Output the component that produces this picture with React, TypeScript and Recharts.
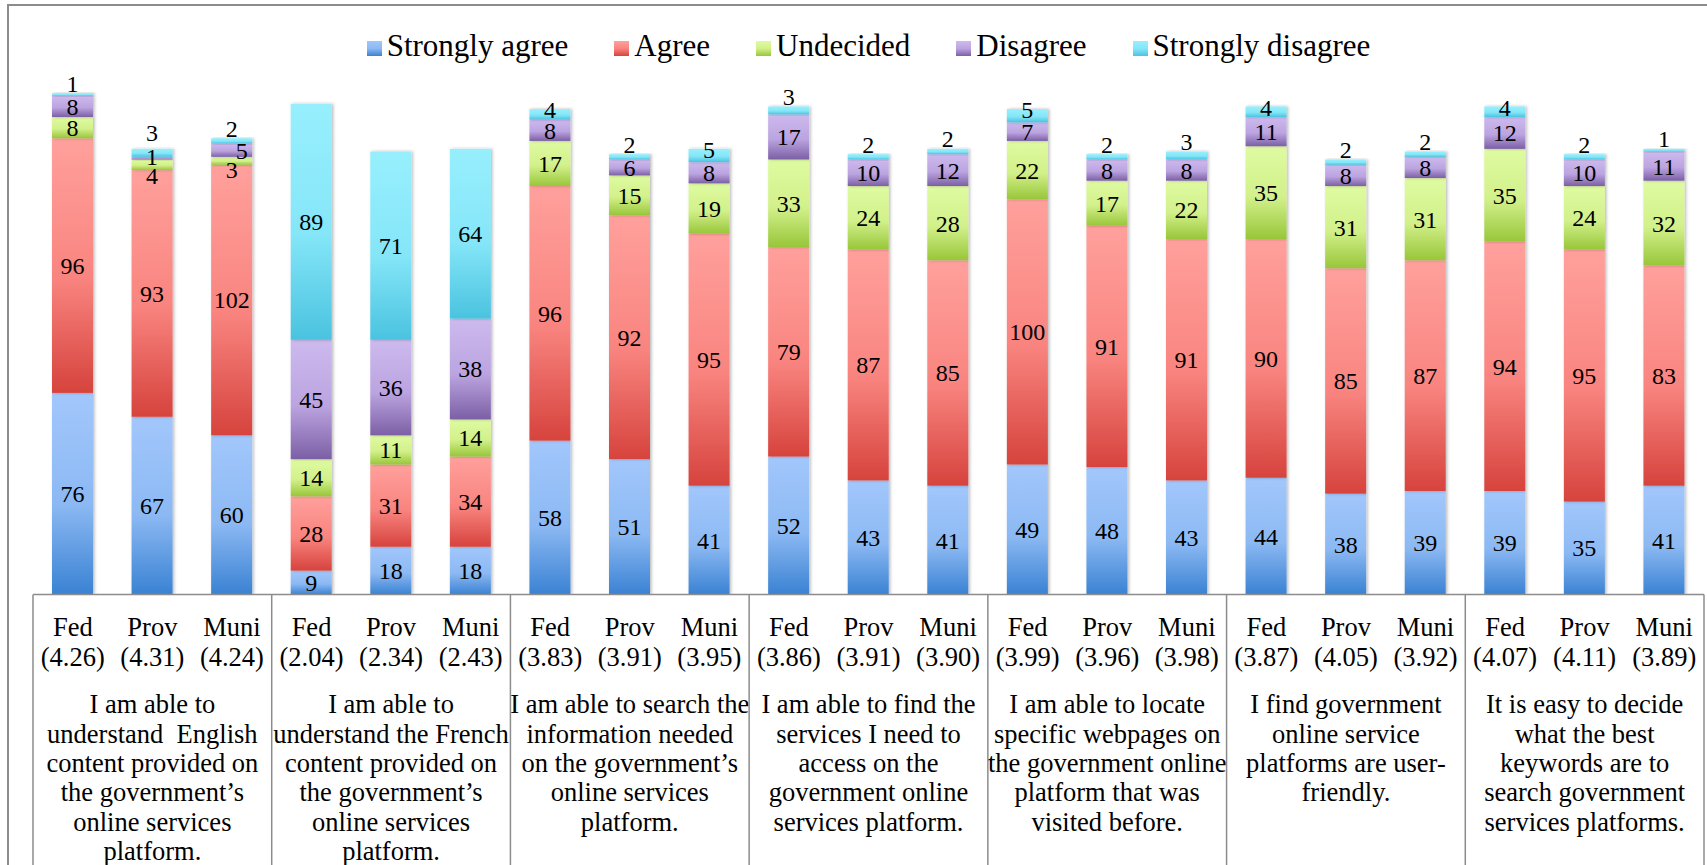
import React from 'react';
import { BarChart, Bar, XAxis, YAxis, Legend, LabelList } from 'recharts';

const levels = ['Fed', 'Prov', 'Muni'];
const scores = [
  [4.26, 4.31, 4.24],
  [2.04, 2.34, 2.43],
  [3.83, 3.91, 3.95],
  [3.86, 3.91, 3.9],
  [3.99, 3.96, 3.98],
  [3.87, 4.05, 3.92],
  [4.07, 4.11, 3.89],
];
const questions = [
  ['I am able to', 'understand  English', 'content provided on', 'the government\u2019s', 'online services', 'platform.'],
  ['I am able to', 'understand the French', 'content provided on', 'the government\u2019s', 'online services', 'platform.'],
  ['I am able to search the', 'information needed', 'on the government\u2019s', 'online services', 'platform.'],
  ['I am able to find the', 'services I need to', 'access on the', 'government online', 'services platform.'],
  ['I am able to locate', 'specific webpages on', 'the government online', 'platform that was', 'visited before.'],
  ['I find government', 'online service', 'platforms are user-', 'friendly.'],
  ['It is easy to decide', 'what the best', 'keywords are to', 'search government', 'services platforms.'],
];
const stronglyAgree = [76, 67, 60, 9, 18, 18, 58, 51, 41, 52, 43, 41, 49, 48, 43, 44, 38, 39, 39, 35, 41];
const agree = [96, 93, 102, 28, 31, 34, 96, 92, 95, 79, 87, 85, 100, 91, 91, 90, 85, 87, 94, 95, 83];
const undecided = [8, 4, 3, 14, 11, 14, 17, 15, 19, 33, 24, 28, 22, 17, 22, 35, 31, 31, 35, 24, 32];
const disagree = [8, 1, 5, 45, 36, 38, 8, 6, 8, 17, 10, 12, 7, 8, 8, 11, 8, 8, 12, 10, 11];
const stronglyDisagree = [1, 3, 2, 89, 71, 64, 4, 2, 5, 3, 2, 2, 5, 2, 3, 4, 2, 2, 4, 2, 1];

const seriesNames = ['Strongly agree', 'Agree', 'Undecided', 'Disagree', 'Strongly disagree'];
const seriesKeys = ['sa', 'a', 'u', 'd', 'sd'];
const gradients = [
  ['#a2c7fc', '#8cb9f3', '#3a82d3'],
  ['#ffa09c', '#f9847f', '#d6433d'],
  ['#dffba2', '#d2f08a', '#98c63a'],
  ['#cdbaee', '#bba4e0', '#7c5fa5'],
  ['#97effd', '#85e6f8', '#4ac3e0'],
];

const data = stronglyAgree.map((v, i) => ({
  key: i,
  sa: v,
  a: agree[i],
  u: undecided[i],
  d: disagree[i],
  sd: stronglyDisagree[i],
}));

const W = 1707;
const H = 865;
const FONT = '"Liberation Serif", "Times New Roman", serif';
const MARGIN = { top: 64, right: 3, bottom: 240.5, left: 33 };
const AXIS_H = 30;
const BASE = H - MARGIN.bottom - AXIS_H;
const BAND = (W - MARGIN.left - MARGIN.right) / data.length;
const GRID = '#8c8c8c';

const Tick = (props: any) => {
  const { x, payload } = props;
  const i = Number(payload.value);
  const half = payload.offset ?? BAND / 2;
  const g = Math.floor(i / 3);
  return (
    <g fontFamily={FONT} fill="#000">
      <text x={x} y={627} dy="0.35em" textAnchor="middle" fontSize={26.5} fill="#000">
        {levels[i % 3]}
      </text>
      <text x={x} y={656.5} dy="0.35em" textAnchor="middle" fontSize={26.5} fill="#000">
        ({scores[g][i % 3].toFixed(2)})
      </text>
      {i % 3 === 0 && (
        <line x1={x - half} x2={x - half} y1={BASE} y2={H} stroke={GRID} strokeWidth={1.5} />
      )}
      {i === data.length - 1 && (
        <line x1={x + half} x2={x + half} y1={BASE} y2={H} stroke={GRID} strokeWidth={1.5} />
      )}
      {i % 3 === 1 &&
        questions[g].map((l, k) => (
          <text
            key={k}
            x={x}
            y={704 + k * 29.4}
            dy="0.35em"
            textAnchor="middle"
            fontSize={26.5}
            fill="#000"
            style={{ whiteSpace: 'pre' }}
          >
            {l}
          </text>
        ))}
    </g>
  );
};

const makeLabel = (series: string) => (props: any) => {
  const { x, y, width, height, value, index } = props;
  const v = Number(value);
  if (!v) return null;
  const top = Number(y);
  const h = Number(height);
  let cx = Number(x) + Number(width) / 2;
  let cy = top + h / 2;
  if (series === 'sd') {
    if (v <= 3) cy = top - 10 - (disagree[index] <= 2 ? 6 : 0);
    else if (v <= 5) cy = top + 1;
  } else if (series === 'd' && v <= 2) {
    cy = top;
  } else if (series === 'd' && v <= 5) {
    cx += 10;
  } else if (series === 'u' && v <= 4) {
    cy = top + h + 5;
  }
  return (
    <text x={cx} y={cy} dy="0.35em" textAnchor="middle" fontSize={24} fontFamily={FONT} fill="#000">
      {v}
    </text>
  );
};

const LegendContent = () => (
  <div
    style={{
      display: 'flex',
      justifyContent: 'center',
      alignItems: 'center',
      gap: 46,
      fontFamily: FONT,
      fontSize: 31,
      lineHeight: '34px',
      color: '#000',
    }}
  >
    {seriesNames.map((n, k) => (
      <div key={n} style={{ display: 'flex', alignItems: 'center' }}>
        <span
          style={{
            display: 'inline-block',
            width: 15,
            height: 15,
            marginRight: 5,
            marginTop: 4,
            background: `linear-gradient(${gradients[k][0]}, ${gradients[k][1]}, ${gradients[k][2]})`,
          }}
        />
        <span>{n}</span>
      </div>
    ))}
  </div>
);

export default function App() {
  return (
    <div style={{ position: 'absolute', left: 0, top: 0, width: W, height: H, background: '#fff' }}>
      <div
        style={{
          position: 'absolute',
          left: 7,
          top: 4,
          width: W - 7,
          height: H - 4,
          borderLeft: `2px solid ${GRID}`,
          borderTop: `2px solid ${GRID}`,
          boxSizing: 'border-box',
        }}
      />
      <BarChart width={W} height={H} data={data} margin={MARGIN} style={{ position: 'absolute', left: 0, top: 0 }}>
        <defs>
          {gradients.map((g, k) => (
            <linearGradient key={k} id={`grad${k}`} x1="0" y1="0" x2="0" y2="1">
              <stop offset="0%" stopColor={g[0]} />
              <stop offset="55%" stopColor={g[1]} />
              <stop offset="100%" stopColor={g[2]} />
            </linearGradient>
          ))}
          <filter id="barShadow" x="-20%" y="-20%" width="140%" height="140%">
            <feDropShadow dx="1.5" dy="0" stdDeviation="1.6" floodColor="#000" floodOpacity="0.28" />
          </filter>
        </defs>
        <XAxis
          dataKey="key"
          type="category"
          height={AXIS_H}
          interval={0}
          tickLine={false}
          axisLine={{ stroke: GRID, strokeWidth: 1.5 }}
          tick={<Tick />}
        />
        <YAxis hide domain={[0, 200]} type="number" allowDataOverflow />
        <Legend
          verticalAlign="middle"
          wrapperStyle={{ top: 29, left: MARGIN.left, width: W - MARGIN.left - MARGIN.right }}
          content={<LegendContent />}
        />
        {seriesKeys.map((k, idx) => (
          <Bar
            key={k}
            dataKey={k}
            name={seriesNames[idx]}
            stackId="s"
            barSize={41}
            fill={`url(#grad${idx})`}
            isAnimationActive={false}
            shape={(p: any) => (
              <rect
                x={p.x}
                y={p.y}
                width={p.width}
                height={p.height}
                fill={`url(#grad${idx})`}
                filter="url(#barShadow)"
              />
            )}
          >
            <LabelList dataKey={k} content={makeLabel(k)} />
          </Bar>
        ))}
      </BarChart>
    </div>
  );
}
